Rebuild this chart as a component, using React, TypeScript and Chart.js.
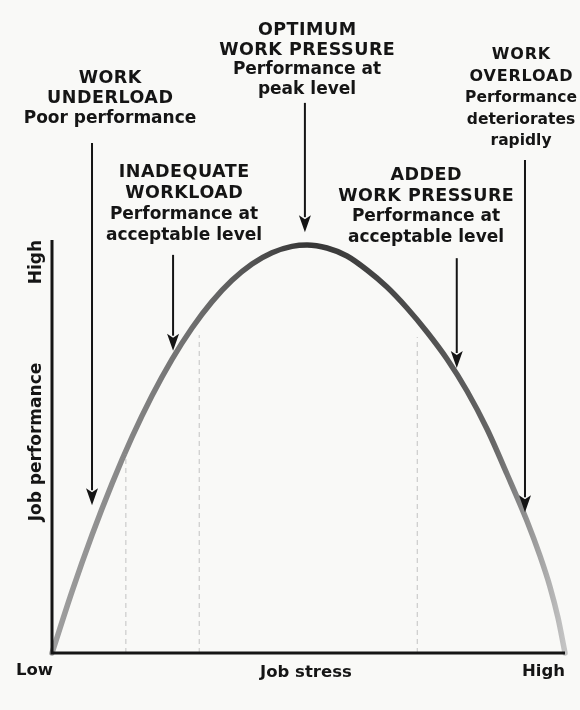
import React, { useEffect, useRef } from "react";
import { Chart, registerables } from "chart.js";

Chart.register(...registerables);

// Job stress (0 = low, 100 = high) and job performance (0 = low, 100 = high)
const stressX = [0, 3.9, 7.8, 11.7, 15.59, 19.49, 23.39, 27.29, 31.19, 35.09, 38.99, 42.88, 46.78, 49.71, 53.61, 57.5, 61.4, 65.3, 69.2, 73.1, 77.0, 80.9, 84.8, 88.69, 92.59, 95.13, 97.08, 98.64, 100];
const performanceY = [0, 14.89, 28.57, 41.02, 52.25, 62.28, 71.1, 78.69, 85.08, 90.24, 94.19, 96.92, 98.45, 98.79, 98.06, 96.13, 92.74, 88.62, 83.54, 77.72, 71.19, 63.44, 54.24, 43.34, 31.96, 23.5, 16.0, 8.5, 0];

// dashed zone separators
const dashX = [14.4, 28.7, 71.2];
const dashTop = [48, 77, 76.5];

// annotation arrows (data units)
const arrowX = [7.8, 23.6, 49.3, 78.9, 92.2];
const arrowFrom = [123.5, 96.4, 133.2, 95.6, 119.4];
const arrowTo = [35.8, 73.2, 101.9, 69.0, 34.1];

// annotation texts
const zoneLabels = [
  ["WORK", "UNDERLOAD", "Poor performance"],
  ["INADEQUATE", "WORKLOAD", "Performance at", "acceptable level"],
  ["OPTIMUM", "WORK PRESSURE", "Performance at", "peak level"],
  ["ADDED", "WORK PRESSURE", "Performance at", "acceptable level"],
  ["WORK", "OVERLOAD", "Performance", "deteriorates", "rapidly"],
];
const xAxisLabels = ["Low", "Job stress", "High"];
const yAxisLabels = ["Job performance", "High"];

// layout for annotation blocks: center x (px), first line y (px), line height (px), font sizes
const blockLayout = [
  { cx: 110, y0: 78, lh: 20.5, caps: 17.5, lower: 17, ls: 0.5 },
  { cx: 184, y0: 172, lh: 21.3, caps: 17.5, lower: 17, ls: 0.5 },
  { cx: 307, y0: 30, lh: 20, caps: 17.5, lower: 17, ls: 0.5 },
  { cx: 426, y0: 175, lh: 21, caps: 17.5, lower: 17, ls: 0.5 },
  { cx: 521, y0: 55, lh: 21.5, caps: 16, lower: 15.5, ls: 0.8 },
];

const FONT = '"DejaVu Sans", sans-serif';
const INK = "#151515";

const overlayPlugin = {
  id: "overlay",
  afterDatasetsDraw(chart: any) {
    const { ctx, scales } = chart;
    const xs = scales.x;
    const ys = scales.y;
    ctx.save();

    // axes
    ctx.strokeStyle = INK;
    ctx.lineWidth = 3;
    ctx.lineCap = "butt";
    ctx.beginPath();
    ctx.moveTo(xs.getPixelForValue(0), ys.getPixelForValue(100));
    ctx.lineTo(xs.getPixelForValue(0), ys.getPixelForValue(0));
    ctx.lineTo(xs.getPixelForValue(100), ys.getPixelForValue(0));
    ctx.stroke();

    // arrows
    arrowX.forEach((ax, i) => {
      const px = xs.getPixelForValue(ax);
      const top = ys.getPixelForValue(arrowFrom[i]);
      const tip = ys.getPixelForValue(arrowTo[i]);
      const headL = 17;
      const headW = 6;
      ctx.strokeStyle = INK;
      ctx.lineWidth = 2;
      ctx.beginPath();
      ctx.moveTo(px, top);
      ctx.lineTo(px, tip - headL + 2);
      ctx.stroke();
      ctx.fillStyle = INK;
      ctx.beginPath();
      ctx.moveTo(px, tip);
      ctx.lineTo(px - headW, tip - headL);
      ctx.lineTo(px, tip - headL + 4);
      ctx.lineTo(px + headW, tip - headL);
      ctx.closePath();
      ctx.fill();
    });

    // zone labels
    ctx.fillStyle = INK;
    ctx.textAlign = "center";
    ctx.textBaseline = "middle";
    zoneLabels.forEach((lines, i) => {
      const b = blockLayout[i];
      lines.forEach((t, j) => {
        const caps = t === t.toUpperCase();
        ctx.font = `bold ${caps ? b.caps : b.lower}px ${FONT}`;
        (ctx as any).letterSpacing = caps ? `${b.ls}px` : "0px";
        ctx.fillText(t, b.cx + (caps ? b.ls / 2 : 0), b.y0 + j * b.lh);
      });
    });
    (ctx as any).letterSpacing = "0px";

    // axis labels
    ctx.font = `bold 16.5px ${FONT}`;
    const base = ys.getPixelForValue(0) + 18;
    ctx.textAlign = "left";
    ctx.fillText(xAxisLabels[0], 16, base);
    ctx.textAlign = "center";
    ctx.fillText(xAxisLabels[1], xs.getPixelForValue(49.5), base + 2);
    ctx.textAlign = "right";
    ctx.fillText(xAxisLabels[2], xs.getPixelForValue(100), base + 1);

    ctx.font = `bold 17px ${FONT}`;
    ctx.save();
    ctx.translate(37, 442);
    ctx.rotate(-Math.PI / 2);
    ctx.textAlign = "center";
    ctx.fillText(yAxisLabels[0], 0, 0);
    ctx.restore();
    ctx.save();
    ctx.translate(37, ys.getPixelForValue(100));
    ctx.rotate(-Math.PI / 2);
    ctx.textAlign = "right";
    ctx.fillText(yAxisLabels[1], 0, 0);
    ctx.restore();

    ctx.restore();
  },
};

export default function App() {
  const ref = useRef<HTMLCanvasElement | null>(null);
  useEffect(() => {
    if (!ref.current) return;
    const curve = stressX.map((x, i) => ({ x, y: performanceY[i] }));
    const dashSets = dashX.map((x, i) => ({
      data: [
        { x, y: 0 },
        { x, y: dashTop[i] },
      ],
      borderColor: "#c2c2c2",
      borderWidth: 1,
      borderDash: [5, 4],
      pointRadius: 0,
      clip: false as any,
    }));
    const chart = new Chart(ref.current, {
      type: "line",
      data: {
        datasets: [
          ...dashSets,
          {
            data: curve,
            borderWidth: 5.5,
            cubicInterpolationMode: "monotone",
            pointRadius: 0,
            clip: false as any,
            borderCapStyle: "round",
            borderColor: (c: any) => {
              const ch = c.chart;
              const area = ch.chartArea;
              if (!area) return "#555";
              const g = ch.ctx.createLinearGradient(area.left, 0, area.right, 0);
              g.addColorStop(0, "#a0a0a0");
              g.addColorStop(0.3, "#6a6a6a");
              g.addColorStop(0.5, "#363636");
              g.addColorStop(0.72, "#4e4e4e");
              g.addColorStop(0.86, "#666");
              g.addColorStop(1, "#c4c4c4");
              return g;
            },
          },
        ],
      },
      options: {
        responsive: false,
        animation: false,
        layout: { padding: { left: 52, right: 15, top: 240, bottom: 57 } },
        scales: {
          x: { type: "linear", min: 0, max: 100, display: false },
          y: { type: "linear", min: 0, max: 100, display: false },
        },
        plugins: { legend: { display: false }, tooltip: { enabled: false } },
      },
      plugins: [overlayPlugin],
    });
    return () => chart.destroy();
  }, []);
  return (
    <div style={{ position: "absolute", left: 0, top: 0, width: 580, height: 710, background: "#f9f9f7" }}>
      <canvas ref={ref} width={580} height={710} />
    </div>
  );
}
